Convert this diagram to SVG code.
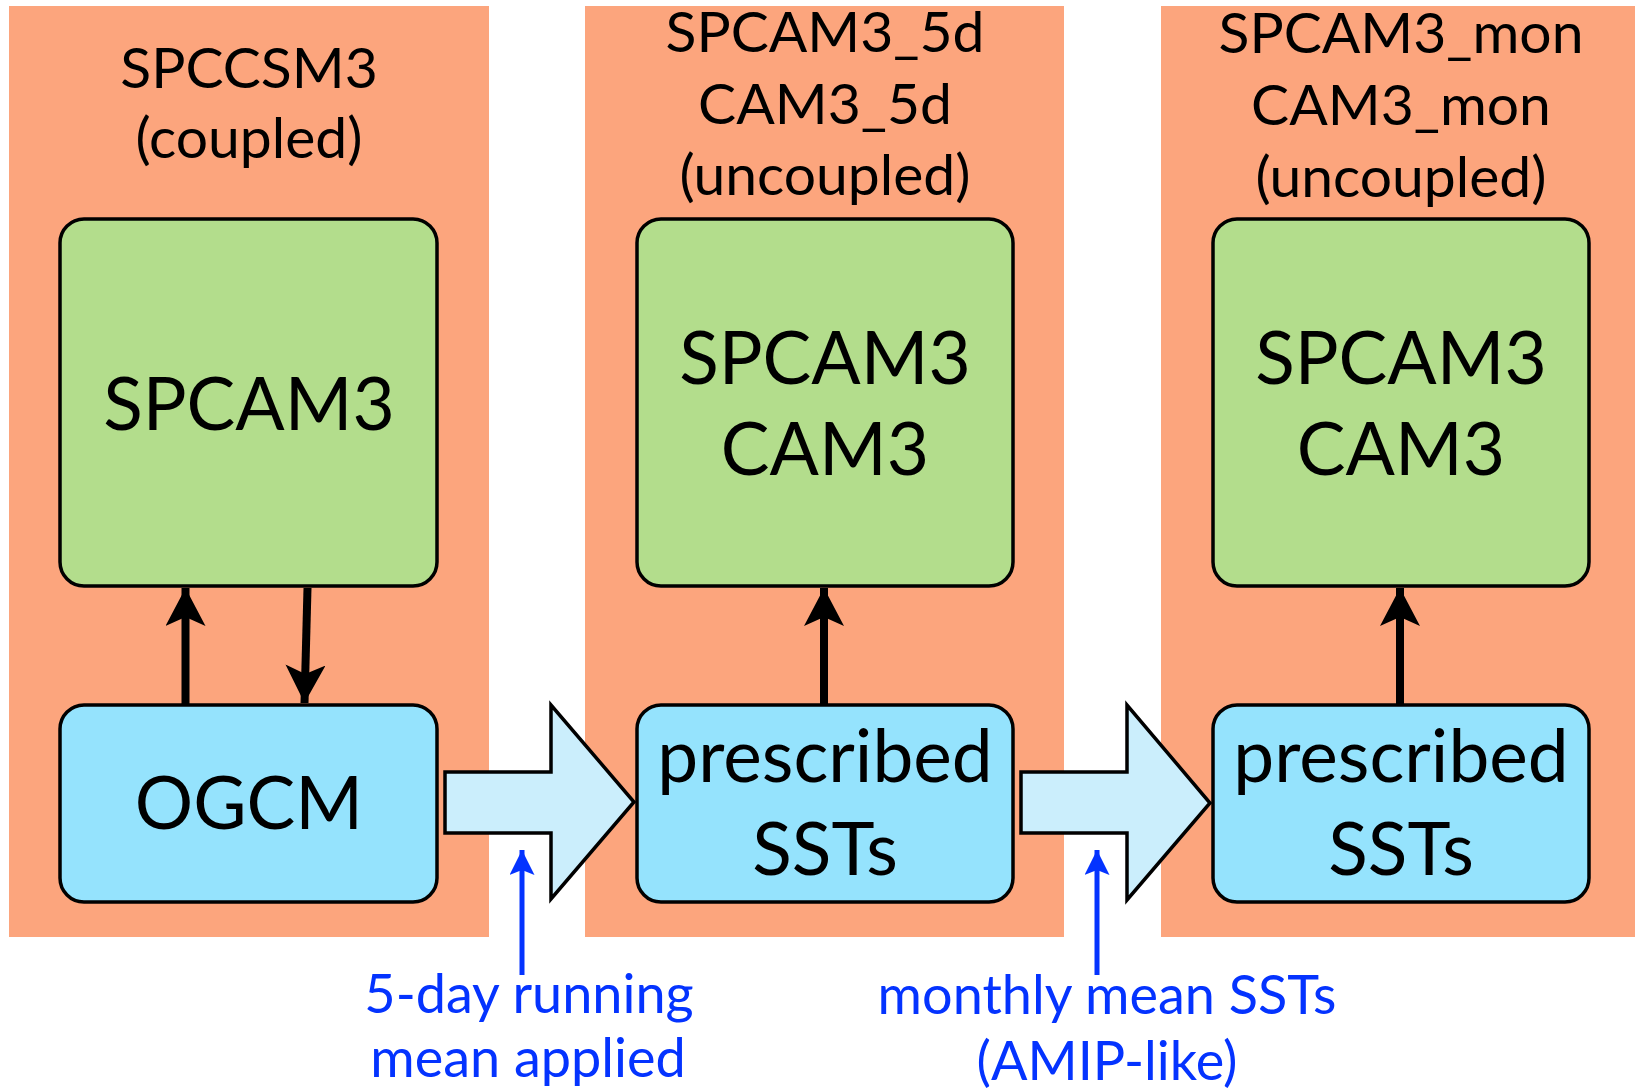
<svg xmlns="http://www.w3.org/2000/svg" width="1635" height="1092" viewBox="0 0 1635 1092">
<defs>
<style>
.panel{fill:#fca57d;stroke:none}
.green{fill:#b3dd8c;stroke:#000;stroke-width:3.5}
.blue{fill:#95e3fd;stroke:#000;stroke-width:3.5}
.big{fill:#cbeefc;stroke:#000;stroke-width:3.5;stroke-linejoin:miter}
.lbl{font-family:Lato,"Liberation Sans",sans-serif;font-size:57px;fill:#000;text-anchor:middle}
.box{font-family:Lato,"Liberation Sans",sans-serif;font-size:73px;fill:#000;text-anchor:middle}
.note{font-family:Lato,"Liberation Sans",sans-serif;font-size:54px;fill:#0433ff;text-anchor:middle}
.blk{stroke:#000;stroke-width:8;fill:none}
.bl{stroke:#0433ff;stroke-width:5;fill:none}
</style>
<marker id="ah" markerUnits="userSpaceOnUse" markerWidth="42" markerHeight="42" refX="38" refY="20" orient="auto" viewBox="0 0 42 42">
<path d="M0,0 L38,20 L0,40 L9,20 Z" fill="#000"/>
</marker>
<marker id="bh" markerUnits="userSpaceOnUse" markerWidth="28" markerHeight="28" refX="25" refY="12.5" orient="auto" viewBox="0 0 28 28">
<path d="M0,0 L25,12.5 L0,25 L5,12.5 Z" fill="#0433ff"/>
</marker>
</defs>
<rect width="1635" height="1092" fill="#fff"/>
<g id="panel-spccsm3">
<rect class="panel" x="9" y="6" width="480" height="931"/>
<text class="lbl" x="249" y="88">SPCCSM3</text>
<text class="lbl" x="249" y="158">(coupled)</text>
</g>
<g id="panel-5d">
<rect class="panel" x="585" y="6" width="479" height="931"/>
<text class="lbl" x="825" y="52">SPCAM3_5d</text>
<text class="lbl" x="825" y="124">CAM3_5d</text>
<text class="lbl" x="825" y="195">(uncoupled)</text>
</g>
<g id="panel-mon">
<rect class="panel" x="1161" y="6" width="474" height="931"/>
<text class="lbl" x="1401" y="53">SPCAM3_mon</text>
<text class="lbl" x="1401" y="125">CAM3_mon</text>
<text class="lbl" x="1401" y="197">(uncoupled)</text>
</g>
<g id="atm1">
<rect class="green" x="60" y="219" width="377" height="367" rx="24"/>
<text class="box" x="249" y="430">SPCAM3</text>
</g>
<g id="ogcm">
<rect class="blue" x="60" y="705" width="377" height="197" rx="24"/>
<text class="box" x="249" y="829">OGCM</text>
</g>
<g id="atm2">
<rect class="green" x="637" y="219" width="376" height="367" rx="24"/>
<text class="box" x="825" y="384">SPCAM3</text>
<text class="box" x="825" y="475">CAM3</text>
</g>
<g id="sst2">
<rect class="blue" x="637" y="705" width="376" height="197" rx="24"/>
<text class="box" x="825" y="782">prescribed</text>
<text class="box" x="825" y="875">SSTs</text>
</g>
<g id="atm3">
<rect class="green" x="1213" y="219" width="376" height="367" rx="24"/>
<text class="box" x="1401" y="384">SPCAM3</text>
<text class="box" x="1401" y="475">CAM3</text>
</g>
<g id="sst3">
<rect class="blue" x="1213" y="705" width="376" height="197" rx="24"/>
<text class="box" x="1401" y="782">prescribed</text>
<text class="box" x="1401" y="875">SSTs</text>
</g>
<g id="connectors">
<line class="blk" x1="185.5" y1="704" x2="185.5" y2="588" marker-end="url(#ah)"/>
<line class="blk" x1="307.5" y1="588" x2="304.5" y2="703" marker-end="url(#ah)"/>
<line class="blk" x1="824" y1="704" x2="824" y2="588" marker-end="url(#ah)"/>
<line class="blk" x1="1400" y1="704" x2="1400" y2="588" marker-end="url(#ah)"/>
<polygon class="big" points="445,772 551,772 551,705 634,802 551,899 551,833 445,833"/>
<polygon class="big" points="1021,772 1127,772 1127,705 1210,803 1127,900 1127,833 1021,833"/>
<line class="bl" x1="522" y1="975" x2="522" y2="850" marker-end="url(#bh)"/>
<line class="bl" x1="1097" y1="975" x2="1097" y2="850" marker-end="url(#bh)"/>
</g>
<g id="note-5day">
<text class="note" x="529" y="1013">5-day running</text>
<text class="note" x="528" y="1077">mean applied</text>
</g>
<g id="note-monthly">
<text class="note" x="1107" y="1014">monthly mean SSTs</text>
<text class="note" x="1107" y="1080">(AMIP-like)</text>
</g>
</svg>
